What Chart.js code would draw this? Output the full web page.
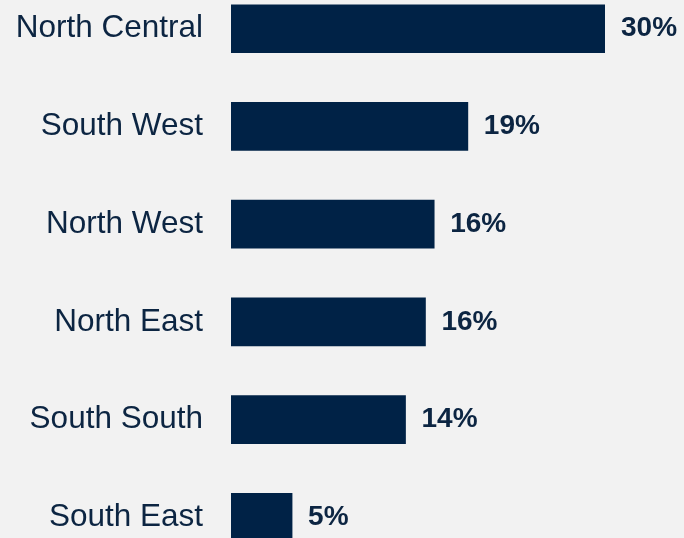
<!DOCTYPE html>
<html>
<head>
<meta charset="utf-8">
<script src="https://cdn.jsdelivr.net/npm/chart.js@4/dist/chart.umd.min.js"></script>
<style>
html,body{margin:0;padding:0;background:#f2f2f2;overflow:hidden;width:684px;height:538px;position:relative;}
#c{position:absolute;left:0;top:-67px;}
</style>
</head>
<body>
<canvas id="c" width="684" height="680" style="width:684px;height:680px;"></canvas>
<script>
const categories = ["North Central","South West","North West","North East","South South","South East"];
const values = [30, 19, 16.3, 15.6, 14, 4.9];
const valueLabels = ["30%","19%","16%","16%","14%","5%"];

const navy = "#002246";
const textNavy = "#0c2542";

const valueLabelPlugin = {
  id: "valueLabels",
  afterDatasetsDraw(chart) {
    const ctx = chart.ctx;
    const meta = chart.getDatasetMeta(0);
    ctx.save();
    ctx.font = "bold 28px 'Liberation Sans', Arial, sans-serif";
    ctx.fillStyle = textNavy;
    ctx.textAlign = "left";
    ctx.textBaseline = "middle";
    meta.data.forEach((bar, i) => {
      ctx.fillText(valueLabels[i], bar.x + 16, bar.y);
    });
    ctx.restore();
  }
};

new Chart(document.getElementById("c"), {
  type: "bar",
  data: {
    labels: categories,
    datasets: [{
      data: values,
      backgroundColor: navy,
      borderWidth: 0,
      barThickness: 48
    }]
  },
  options: {
    indexAxis: "y",
    responsive: false,
    maintainAspectRatio: false,
    devicePixelRatio: 1,
    animation: false,
    layout: { padding: { left: 0, right: 79, top: 0, bottom: 0 } },
    plugins: { legend: { display: false }, tooltip: { enabled: false } },
    scales: {
      x: {
        min: 0, max: 30,
        display: false,
        grid: { display: false }
      },
      y: {
        grid: { display: false, drawTicks: false },
        border: { display: false },
        ticks: {
          padding: 28,
          color: textNavy,
          font: { family: "'Liberation Sans', Arial, sans-serif", size: 31.5 }
        },
        afterFit(scale) { scale.width = 231; }
      }
    }
  },
  plugins: [valueLabelPlugin]
});
</script>
</body>
</html>
